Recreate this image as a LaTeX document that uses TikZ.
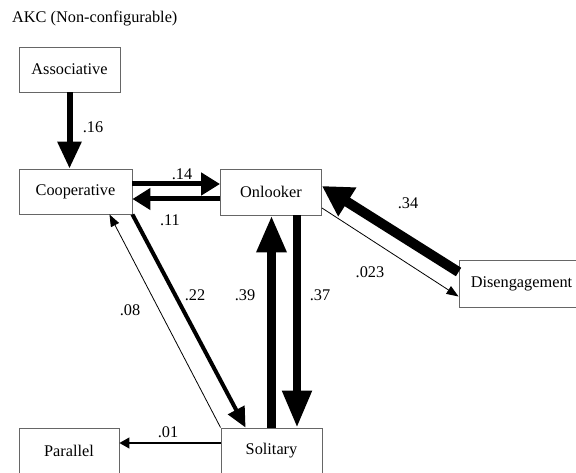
\documentclass[tikz,border=0pt]{standalone}
\usepackage{fontspec}
\setmainfont{Liberation Serif}
\newfontfamily\tms{Liberation Serif}
\usetikzlibrary{arrows.meta}
\begin{document}
\begin{tikzpicture}[x=1pt,y=-1pt,
  box/.style={draw=black!60,line width=0.9pt,fill=white,inner sep=0pt,
    font=\tms\fontsize{16.3}{19}\selectfont},
  lbl/.style={font=\tms\fontsize{16.3}{19}\selectfont,inner sep=0pt},
  con/.style={draw=black}]
\useasboundingbox (0,0) rectangle (576,473);
\node[lbl,anchor=west] (title) at (12,19) {AKC (Non-configurable)};
\node[box,minimum width=101pt,minimum height=45pt] (assoc) at (69.5,69.5) {Associative};
\node[box,minimum width=113pt,minimum height=45pt] (coop) at (75.5,191.5) {Cooperative};
\node[box,minimum width=101pt,minimum height=46pt] (onl) at (271,192) {Onlooker};
\node[box,minimum width=125pt,minimum height=47pt] (dis) at (521.5,283.5) {Disengagement};
\node[box,minimum width=100pt,minimum height=46pt] (par) at (69,451) {Parallel};
\node[box,minimum width=101pt,minimum height=46pt] (sol) at (271.5,451) {Solitary};
% arrows
\draw[con,line width=6pt,-{Triangle[length=27pt,width=23pt]}] (assoc.south) -- (assoc.south |- coop.north);
\draw[con,line width=5pt,-{Triangle[length=19pt,width=22pt]}] ([yshift=7.5pt]coop.east) -- ([yshift=7.5pt]coop.east -| onl.west);
\draw[con,line width=5pt,-{Triangle[length=18pt,width=21pt]}] ([yshift=-7pt]onl.west) -- ([yshift=-7pt]onl.west -| coop.east);
\draw[con,line width=4pt,-{Triangle[length=20pt,width=18pt]}] (coop.south east) -- ([xshift=25pt]sol.north west);
\draw[con,line width=0.8pt,-{Triangle[length=12pt,width=9pt]}] (sol.north west) -- ([xshift=-23pt]coop.south east);
\draw[con,line width=9pt,-{Triangle[length=37pt,width=28pt]}] (sol.north) -- (sol.north |- onl.south);
\draw[con,line width=8pt,-{Triangle[length=37pt,width=28pt]}] ([xshift=26pt]onl.south) -- ([xshift=26pt]onl.south |- sol.north);
\draw[con,line width=10pt,-{Triangle[length=30pt,width=32pt]}] ([yshift=11.5pt]dis.west) -- ([yshift=6pt]onl.east);
\draw[con,line width=0.8pt,-{Triangle[length=12pt,width=9pt]}] ([yshift=-16pt]onl.east) -- ([yshift=-13pt]dis.west);
\draw[con,line width=1.2pt,-{Triangle[length=10pt,width=11pt]}] ([yshift=8pt]sol.west) -- ([yshift=8pt]sol.west -| par.east);
% labels
\node[lbl] (l16) at (93,127) {.16};
\node[lbl] (l14) at (182,174) {.14};
\node[lbl] (l11) at (170,220) {.11};
\node[lbl] (l34) at (408,203) {.34};
\node[lbl] (l023) at (370,272) {.023};
\node[lbl] (l39) at (245,295) {.39};
\node[lbl] (l37) at (320,295) {.37};
\node[lbl] (l22) at (195,295) {.22};
\node[lbl] (l08) at (130,310) {.08};
\node[lbl] (l01) at (168,432) {.01};
\end{tikzpicture}
\end{document}
